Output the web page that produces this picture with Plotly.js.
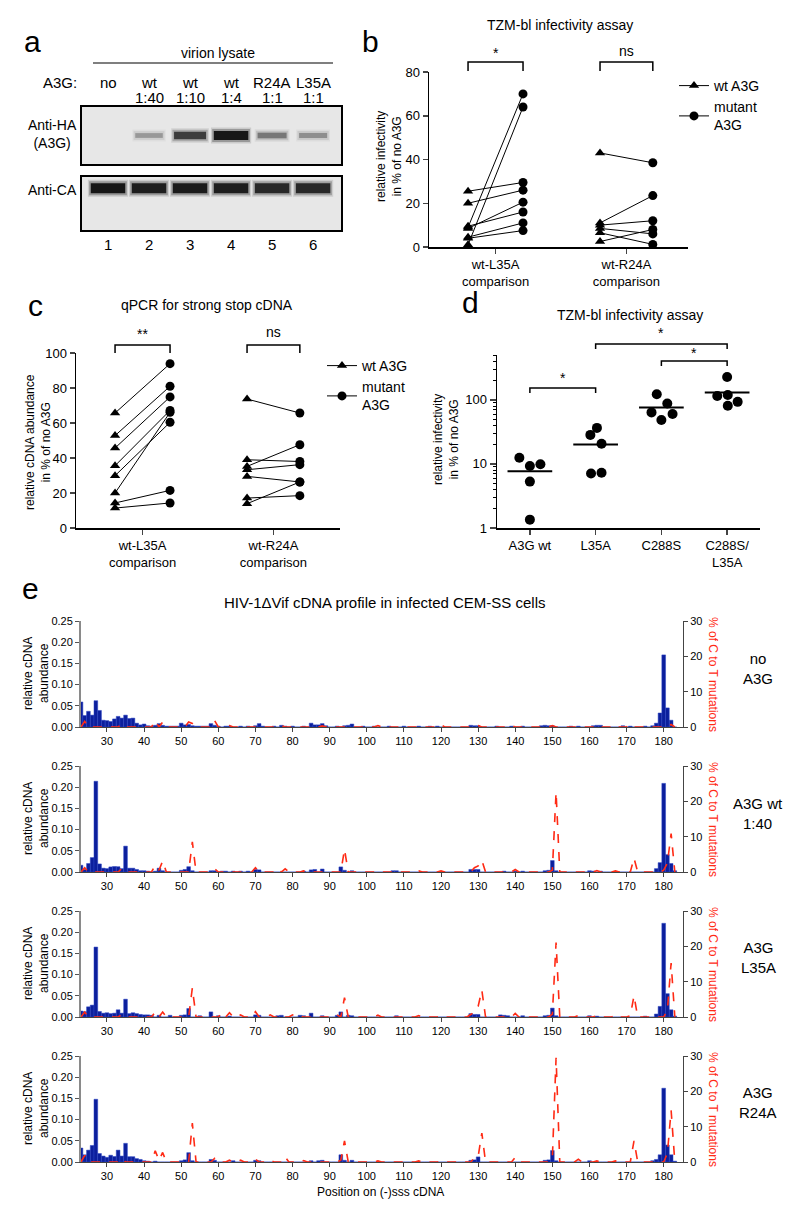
<!DOCTYPE html>
<html><head><meta charset="utf-8">
<script src="https://cdn.plot.ly/plotly-3.0.1.min.js"></script>
<style>html,body{margin:0;padding:0;background:#fff}#chart{width:800px;height:1215px}</style>
</head><body><div id="chart"></div>
<script>
// ================= DATA =================
// panel a: western blot lanes
const laneNumbers = [1, 2, 3, 4, 5, 6];
const laneLabelTop = ['no', 'wt', 'wt', 'wt', 'R24A', 'L35A'];
const laneLabelBottom = ['', '1:40', '1:10', '1:4', '1:1', '1:1'];
const haIntensity = [0, 0.3, 0.75, 1.0, 0.45, 0.35];
const caIntensity = [1, 0.95, 0.97, 0.95, 0.88, 0.88];

// panel b: TZM-bl infectivity (paired, % of no A3G)
const bWtL35A  = [25.5, 20, 9, 1, 8.5, 9.5, 4.5, 4];
const bMutL35A = [29.5, 26, 70, 64, 20.5, 16, 11, 7.5];
const bWtR24A  = [43, 11, 10, 8.5, 6.5, 2.5];
const bMutR24A = [38.5, 23.5, 12, 6, 1.2, 8];
const pairCategories = ['wt-L35A<br>comparison', 'wt-R24A<br>comparison'];

// panel c: qPCR strong stop cDNA (paired)
const cWtL35A  = [65.7, 52.8, 45.7, 35.6, 29.9, 20, 14.3, 11.4];
const cMutL35A = [93.9, 81, 74.9, 67.2, 60.4, 66.1, 21.5, 14.3];
const cWtR24A  = [73.7, 39, 35.2, 33.3, 29.5, 17.1, 13.9];
const cMutR24A = [65.7, 38, 47.6, 36.2, 26.3, 18.5, 26.3];

// panel d: TZM-bl infectivity (log)
const dCategories = ['A3G wt', 'L35A', 'C288S', 'C288S/<br>L35A'];
const dA3Gwt   = [12.5, 9.3, 9.9, 5.3, 1.35];
const dL35A    = [28.4, 36.5, 20.6, 7.1, 7.3];
const dC288S   = [122, 87.7, 63.7, 60, 48.5];
const dC288SL35A = [227, 115, 119, 93, 80.7];
const dMeans   = [7.7, 20.1, 76, 130];
const dJitter  = [[-0.16, 0, 0.16, 0, 0], [-0.08, 0.02, 0.09, -0.07, 0.09], [-0.07, 0.09, -0.15, 0.17, 0], [0, -0.15, 0.01, 0.16, 0.01]];

// panel e: cDNA profiles; [position, value]; unlisted positions are 0
const eConditions = ['no<br>A3G', 'A3G wt<br>1:40', 'A3G<br>L35A', 'A3G<br>R24A'];
const barsNoA3G = [[23,0.059],[24,0.027],[25,0.037],[26,0.028],[27,0.062],[28,0.039],[29,0.016],[30,0.015],[31,0.013],[32,0.019],[33,0.025],[34,0.021],[35,0.028],[36,0.020],[37,0.021],[38,0.009],[39,0.005],[40,0.007],[41,0.003],[42,0.002],[43,0.004],[44,0.008],[45,0.004],[46,0.002],[47,0.002],[48,0.002],[49,0.002],[50,0.009],[51,0.005],[52,0.006],[53,0.003],[54,0.002],[55,0.002],[56,0.002],[57,0.002],[58,0.008],[59,0.004],[60,0.002],[62,0.002],[63,0.002],[66,0.002],[68,0.002],[70,0.003],[71,0.008],[72,0.002],[75,0.002],[77,0.004],[78,0.002],[80,0.002],[83,0.002],[85,0.009],[86,0.005],[87,0.005],[88,0.008],[89,0.003],[92,0.002],[94,0.003],[95,0.004],[96,0.007],[99,0.002],[102,0.002],[106,0.002],[110,0.002],[114,0.002],[117,0.002],[119,0.002],[128,0.004],[129,0.003],[130,0.003],[135,0.002],[139,0.002],[142,0.002],[147,0.003],[148,0.004],[149,0.003],[150,0.003],[155,0.002],[157,0.002],[161,0.003],[162,0.004],[163,0.004],[169,0.003],[171,0.002],[175,0.002],[177,0.003],[178,0.009],[179,0.033],[180,0.170],[181,0.045],[182,0.016]];
const ctNoA3G = [[24,1.6],[34,0.8],[43,1.8],[45,1.4],[52,1.4],[53,1.0],[59,1.8],[63,0.4],[77,0.4],[88,0.3],[103,0.4],[120,0.6],[129,0.4],[130,0.4],[139,0.4],[150,0.4],[162,0.6],[167,0.6],[171,0.8],[182,0.7]];
const barsWt = [[23,0.016],[24,0.006],[25,0.020],[26,0.034],[27,0.214],[28,0.019],[29,0.009],[30,0.008],[31,0.012],[32,0.013],[33,0.0125],[34,0.008],[35,0.061],[36,0.009],[37,0.009],[38,0.006],[39,0.003],[40,0.003],[41,0.002],[43,0.002],[44,0.009],[45,0.003],[50,0.004],[51,0.006],[52,0.0125],[53,0.003],[58,0.003],[59,0.003],[61,0.002],[62,0.002],[64,0.002],[66,0.002],[68,0.002],[70,0.006],[71,0.005],[83,0.002],[85,0.005],[86,0.006],[88,0.007],[93,0.012],[94,0.004],[96,0.003],[107,0.003],[108,0.003],[128,0.006],[129,0.006],[130,0.006],[137,0.002],[140,0.002],[142,0.002],[148,0.003],[149,0.004],[150,0.027],[151,0.003],[160,0.003],[161,0.002],[163,0.002],[178,0.008],[179,0.022],[180,0.209],[181,0.041],[182,0.020],[183,0.003]];
const ctWt = [[24,1.2],[34,1.0],[43,1.9],[44,0.5],[45,3.1],[53,8.5],[59,0.9],[70,1.2],[76,0.9],[78,0.9],[83,0.3],[94,6.4],[103,0.3],[114,0.3],[120,0.3],[129,1.2],[130,1.7],[131,3.3],[140,0.7],[150,0.5],[151,22.6],[162,0.4],[167,0.3],[172,3.9],[180,0.5],[181,2.5],[182,10.9]];
const barsL35A = [[23,0.014],[24,0.0125],[25,0.024],[26,0.028],[27,0.165],[28,0.013],[29,0.009],[30,0.010],[31,0.008],[32,0.009],[33,0.017],[34,0.009],[35,0.042],[36,0.008],[37,0.010],[38,0.008],[39,0.006],[40,0.005],[41,0.005],[42,0.004],[44,0.004],[47,0.004],[50,0.004],[51,0.005],[52,0.020],[55,0.003],[58,0.012],[60,0.003],[63,0.002],[70,0.005],[71,0.004],[76,0.003],[77,0.004],[82,0.004],[83,0.003],[85,0.009],[88,0.003],[92,0.004],[93,0.012],[95,0.004],[96,0.003],[108,0.003],[128,0.008],[129,0.006],[130,0.006],[136,0.005],[137,0.004],[138,0.003],[142,0.003],[148,0.003],[149,0.004],[150,0.021],[151,0.003],[160,0.003],[162,0.002],[175,0.002],[178,0.007],[179,0.025],[180,0.221],[181,0.055],[182,0.017],[183,0.002]];
const ctL35A = [[24,1.4],[34,0.7],[43,1.4],[45,1.4],[53,8.2],[61,1.2],[63,1.2],[66,0.6],[70,1.5],[74,0.6],[77,0.6],[80,0.6],[82,0.3],[92,0.6],[94,5.5],[103,0.5],[114,0.4],[120,0.4],[128,0.7],[129,1.4],[130,3.0],[131,7.6],[140,1.0],[150,0.8],[151,21.1],[157,0.4],[162,0.4],[167,0.6],[171,0.4],[172,6.0],[181,2.0],[182,15.3]];
const barsR24A = [[23,0.033],[24,0.017],[25,0.028],[26,0.039],[27,0.148],[28,0.020],[29,0.014],[30,0.011],[31,0.016],[32,0.013],[33,0.028],[34,0.014],[35,0.044],[36,0.0125],[37,0.0125],[38,0.008],[39,0.006],[40,0.003],[41,0.002],[43,0.002],[50,0.003],[51,0.005],[52,0.022],[53,0.003],[58,0.006],[59,0.004],[64,0.003],[70,0.004],[71,0.003],[85,0.003],[87,0.003],[88,0.004],[93,0.017],[94,0.004],[96,0.004],[128,0.004],[129,0.005],[130,0.012],[148,0.004],[149,0.005],[150,0.027],[151,0.003],[160,0.003],[177,0.003],[178,0.006],[179,0.017],[180,0.174],[181,0.040],[182,0.017],[183,0.002]];
const ctR24A = [[24,1.9],[34,1.0],[43,3.2],[44,0.5],[45,2.7],[53,11.0],[59,1.0],[63,0.5],[66,0.5],[70,0.8],[74,0.5],[78,1.5],[83,0.4],[93,0.5],[94,6.0],[103,0.3],[114,0.3],[120,0.3],[129,1.2],[130,1.5],[131,8.2],[140,1.3],[150,1.0],[151,29.5],[157,0.8],[162,0.3],[167,0.3],[172,6.0],[181,2.5],[182,14.6]];
const eBars = [barsNoA3G, barsWt, barsL35A, barsR24A];
const eCT = [ctNoA3G, ctWt, ctL35A, ctR24A];
const posStart = 23, posEnd = 183;
const eXTicks = [30,40,50,60,70,80,90,100,110,120,130,140,150,160,170,180];

// ================= LAYOUT HELPERS =================
const W = 800, H = 1215;
const px = x => x / W, py = y => 1 - y / H;
const FONT = '"Liberation Sans", Arial, Helvetica, sans-serif';
const traces = [], shapes = [], ann = [];
const layout = {
  width: W, height: H, margin: {l: 0, r: 0, t: 0, b: 0},
  paper_bgcolor: '#fff', plot_bgcolor: 'rgba(0,0,0,0)',
  font: {family: FONT, size: 13, color: '#000'},
  showlegend: true, hovermode: false, shapes: shapes, annotations: ann
};
function text(t, x, y, size, opts) {
  ann.push(Object.assign({text: t, x: px(x), y: py(y), xref: 'paper', yref: 'paper',
    showarrow: false, font: {size: size, family: FONT, color: '#000'}, xanchor: 'center', yanchor: 'middle'}, opts || {}));
}
const baseAxis = {showgrid: false, zeroline: false, fixedrange: true, automargin: false};

// ================= PANEL A =================
function blotAxes(xn, yn, y0, y1) {
  layout['xaxis' + xn] = Object.assign({}, baseAxis, {domain: [px(82), px(341)], range: [0.366, 6.68],
    showline: true, mirror: true, linewidth: 2, linecolor: '#000', showticklabels: false, ticks: '', anchor: 'y' + yn});
  layout['yaxis' + yn] = Object.assign({}, baseAxis, {domain: [py(y1), py(y0)], range: [-1, 1],
    showline: true, mirror: true, linewidth: 2, linecolor: '#000', showticklabels: false, ticks: '', anchor: 'x' + xn});
  shapes.push({type: 'rect', xref: 'x' + xn + ' domain', yref: 'y' + yn + ' domain',
    x0: 0, x1: 1, y0: 0, y1: 1, fillcolor: '#e7e7e7', line: {width: 0}, layer: 'below'});
}
blotAxes('', '', 107, 164);
blotAxes('2', '2', 177, 230);
function band(lane, inten, xa, ya, yc, thick, halfW) {
  if (inten <= 0) return;
  const layers = [[7, 0.07, 0.12], [4, 0.04, 0.25], [0, 0, 0.85]];
  layers.forEach(([extraW, extraL, alpha]) => {
    traces.push({x: [lane - halfW - extraL, lane + halfW + extraL], y: [yc, yc], xaxis: xa, yaxis: ya, mode: 'lines',
      line: {color: 'rgba(0,0,0,' + (alpha * inten) + ')', width: thick + extraW}, showlegend: false});
  });
}
laneNumbers.forEach((ln, i) => {
  band(ln, haIntensity[i], 'x', 'y', 0, 3 + 6 * haIntensity[i], 0.3 + 0.12 * haIntensity[i]);
  band(ln, caIntensity[i], 'x2', 'y2', 0.58, 10, 0.42);
  ann.push({text: laneLabelTop[i], x: ln, xref: 'x', y: py(82), yref: 'paper', showarrow: false, font: {size: 15}, yanchor: 'middle'});
  if (laneLabelBottom[i]) ann.push({text: laneLabelBottom[i], x: ln, xref: 'x', y: py(98), yref: 'paper', showarrow: false, font: {size: 15}, yanchor: 'middle'});
  ann.push({text: String(ln), x: ln, xref: 'x2', y: py(244), yref: 'paper', showarrow: false, font: {size: 15}, yanchor: 'middle'});
});
text('a', 32, 42, 30);
text('virion lysate', 218, 53, 14);
shapes.push({type: 'line', xref: 'paper', yref: 'paper', x0: px(93), x1: px(333), y0: py(63), y1: py(63), line: {color: '#000', width: 1.2}});
text('A3G:', 60, 82, 15);
text('Anti-HA<br>(A3G)', 52, 134, 14);
text('Anti-CA', 52, 190, 14);

// ================= PANELS B & C =================
const pairX = {wtA: 0, mutA: 1, wtB: 2.4, mutB: 3.36};
function pairedPanel(xn, wtA, mutA, wtB, mutB, legendName) {
  const xa = 'x' + xn, ya = 'y' + xn;
  [[wtA, mutA, pairX.wtA, pairX.mutA], [wtB, mutB, pairX.wtB, pairX.mutB]].forEach(([w, m, xw, xm]) => {
    const lx = [], ly = [];
    w.forEach((v, i) => { lx.push(xw, xm, null); ly.push(v, m[i], null); });
    traces.push({x: lx, y: ly, xaxis: xa, yaxis: ya, mode: 'lines', line: {color: '#000', width: 1}, showlegend: false, cliponaxis: false});
    traces.push({x: w.map(() => xw), y: w, xaxis: xa, yaxis: ya, mode: 'markers', showlegend: false, cliponaxis: false,
      marker: {symbol: 'triangle-up', size: 9, color: '#000'}});
    traces.push({x: m.map(() => xm), y: m, xaxis: xa, yaxis: ya, mode: 'markers', showlegend: false, cliponaxis: false,
      marker: {symbol: 'circle', size: 9, color: '#000'}});
  });
  traces.push({x: [null], y: [null], xaxis: xa, yaxis: ya, mode: 'lines+markers', name: 'wt A3G', legend: legendName,
    marker: {symbol: 'triangle-up', size: 9, color: '#000'}, line: {color: '#000', width: 1}});
  traces.push({x: [null], y: [null], xaxis: xa, yaxis: ya, mode: 'lines+markers', name: 'mutant<br>A3G', legend: legendName,
    marker: {symbol: 'circle', size: 9, color: '#000'}, line: {color: '#000', width: 1}});
}
function pairedAxes(xn, x0, x1, y0, y1, xr, yr, ytv) {
  layout['xaxis' + xn] = Object.assign({}, baseAxis, {domain: [px(x0), px(x1)], range: xr, anchor: 'y' + xn,
    showline: true, linewidth: 1.5, linecolor: '#000', ticks: 'outside', ticklen: 5, tickwidth: 1.5,
    tickvals: [(pairX.wtA + pairX.mutA) / 2, (pairX.wtB + pairX.mutB) / 2], ticktext: pairCategories, tickfont: {size: 13}});
  layout['yaxis' + xn] = Object.assign({}, baseAxis, {domain: [py(y1), py(y0)], range: yr, anchor: 'x' + xn,
    showline: true, linewidth: 1.5, linecolor: '#000', ticks: 'outside', ticklen: 5, tickwidth: 1.5,
    tickvals: ytv, tickfont: {size: 13}});
}
function bracket(xa, xl, xr, yTop, yBot, label, labelY) {
  shapes.push({type: 'path', xref: xa, yref: 'paper',
    path: `M ${xl},${py(yBot)} L ${xl},${py(yTop)} L ${xr},${py(yTop)} L ${xr},${py(yBot)}`,
    line: {color: '#000', width: 1.5}});
  ann.push({text: label, x: (xl + xr) / 2, xref: xa, y: py(labelY), yref: 'paper', showarrow: false, font: {size: 14}, yanchor: 'middle'});
}
// b
pairedAxes('3', 429, 688, 72, 247, [-0.71, 4.0], [0, 80], [0, 20, 40, 60, 80]);
pairedPanel('3', bWtL35A, bMutL35A, bWtR24A, bMutR24A, 'legend');
bracket('x3', pairX.wtA, pairX.mutA, 62, 71, '*', 53);
bracket('x3', pairX.wtB, pairX.mutB, 62, 71, 'ns', 51);
text('b', 370, 42, 30);
text('TZM-bl infectivity assay', 560, 25, 14);
text('relative infectivity<br>in % of no A3G', 389, 157, 12, {textangle: -90});
layout.legend = {x: px(674), y: py(70), xanchor: 'left', yanchor: 'top', font: {size: 14}, bgcolor: 'rgba(0,0,0,0)', itemwidth: 30, tracegroupgap: 0};
// c
pairedAxes('4', 76, 340, 353, 528, [-0.71, 4.09], [0, 100], [0, 20, 40, 60, 80, 100]);
pairedPanel('4', cWtL35A, cMutL35A, cWtR24A, cMutR24A, 'legend2');
bracket('x4', pairX.wtA, pairX.mutA, 345, 353, '**', 334);
bracket('x4', pairX.wtB, pairX.mutB, 345, 353, 'ns', 332);
text('c', 35, 305, 30);
text('qPCR for strong stop cDNA', 207, 305, 14);
text('relative cDNA abundance<br>in % of no A3G', 38, 442, 12, {textangle: -90});
layout.legend2 = {x: px(322), y: py(350), xanchor: 'left', yanchor: 'top', font: {size: 14}, bgcolor: 'rgba(0,0,0,0)', itemwidth: 30, tracegroupgap: 0};

// ================= PANEL D =================
layout.xaxis5 = Object.assign({}, baseAxis, {domain: [px(497), px(760)], range: [-0.5, 3.5], anchor: 'y5',
  showline: true, linewidth: 1.5, linecolor: '#000', ticks: 'outside', ticklen: 5, tickwidth: 1.5,
  tickvals: [0, 1, 2, 3], ticktext: dCategories, tickfont: {size: 13}});
layout.yaxis5 = Object.assign({}, baseAxis, {domain: [py(528), py(355)], type: 'log', range: [0, 2.7], anchor: 'x5',
  showline: true, linewidth: 1.5, linecolor: '#000', ticks: 'outside', ticklen: 6, tickwidth: 1.5,
  tickvals: [1, 10, 100], ticktext: ['1', '10', '100'], tickfont: {size: 13},
  minor: {tickvals: [2,3,4,5,6,7,8,9,20,30,40,50,60,70,80,90,200,300,400,500], ticks: 'outside', ticklen: 3, tickcolor: '#000', tickwidth: 1, showgrid: false}});
[dA3Gwt, dL35A, dC288S, dC288SL35A].forEach((vals, g) => {
  traces.push({x: vals.map((v, i) => g + dJitter[g][i]), y: vals, xaxis: 'x5', yaxis: 'y5', mode: 'markers',
    marker: {symbol: 'circle', size: 10, color: '#000'}, showlegend: false, cliponaxis: false});
  traces.push({x: [g - 0.34, g + 0.34], y: [dMeans[g], dMeans[g]], xaxis: 'x5', yaxis: 'y5', mode: 'lines',
    line: {color: '#000', width: 2}, showlegend: false});
});
bracket('x5', 0, 1, 388, 393, '*', 378);
bracket('x5', 1, 3, 344, 349, '*', 333);
bracket('x5', 2, 3, 361, 366, '*', 353);
text('d', 470, 302, 30);
text('TZM-bl infectivity assay', 630, 315, 14);
text('relative infectivity<br>in % of no A3G', 446, 440, 12, {textangle: -90});

// ================= PANEL E =================
const positions = [];
for (let p = posStart; p <= posEnd; p++) positions.push(p);
function dense(pairs) {
  const m = new Map(pairs.map(([p, v]) => [p, v]));
  return positions.map(p => m.has(p) ? m.get(p) : 0);
}
const eTops = [621, 766, 911, 1056];
const eH = 106;
const eLabelY = [668, 813, 957, 1102];
eTops.forEach((top, k) => {
  const xn = 6 + k, yl = 6 + k, yr = 10 + k;
  layout['xaxis' + xn] = Object.assign({}, baseAxis, {domain: [px(81), px(683)], range: [23, 185.2], anchor: 'y' + yl,
    showline: true, linewidth: 1, linecolor: '#444', ticks: 'outside', ticklen: 4, tickcolor: '#444',
    tickvals: eXTicks, tickfont: {size: 11}});
  layout['yaxis' + yl] = Object.assign({}, baseAxis, {domain: [py(top + eH), py(top)], range: [0, 0.25], anchor: 'x' + xn,
    showline: true, linewidth: 2, linecolor: '#8a8a8a', ticks: 'outside', ticklen: 4, tickcolor: '#555',
    tickvals: [0, 0.05, 0.10, 0.15, 0.20, 0.25], tickformat: '.2f', tickfont: {size: 11}});
  layout['yaxis' + yr] = Object.assign({}, baseAxis, {overlaying: 'y' + yl, side: 'right', range: [0, 30], anchor: 'x' + xn,
    showline: true, linewidth: 1, linecolor: '#444', ticks: 'outside', ticklen: 4, tickcolor: '#444',
    tickvals: [0, 10, 20, 30], tickfont: {size: 11}});
  traces.push({type: 'bar', x: positions, y: dense(eBars[k]), xaxis: 'x' + xn, yaxis: 'y' + yl, width: 1,
    marker: {color: '#0c1f9c', line: {color: '#2a44c4', width: 0.5}}, showlegend: false});
  traces.push({type: 'scatter', mode: 'lines', x: positions, y: dense(eCT[k]), xaxis: 'x' + xn, yaxis: 'y' + yr,
    line: {color: '#ff2a14', width: 1.6, dash: 'dash'}, showlegend: false, cliponaxis: false});
  text('relative cDNA<br>abundance', 36, top + eH / 2, 12, {textangle: -90});
  text('% of C to T mutations', 713, top + eH / 2, 12, {textangle: 90, font: {size: 12, family: FONT, color: '#ff2a14'}});
  text(eConditions[k], 758, eLabelY[k], 15);
});
layout.bargap = 0;
text('e', 30, 588, 30);
text('HIV-1ΔVif cDNA profile in infected CEM-SS cells', 385, 603, 15);
text('Position on (-)sss cDNA', 380, 1192, 12);

Plotly.newPlot('chart', traces, layout, {staticPlot: true, displayModeBar: false});
</script>
</body></html>
